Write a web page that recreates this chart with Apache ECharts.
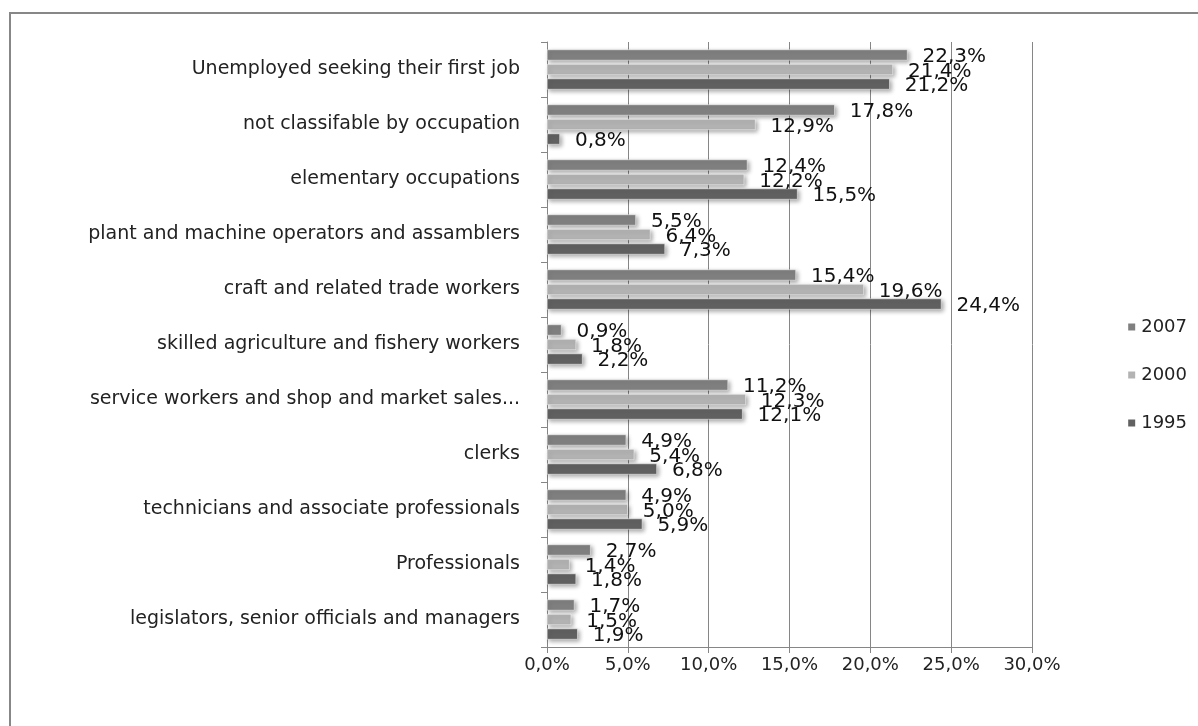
<!DOCTYPE html>
<html>
<head>
<meta charset="utf-8">
<script src="https://cdn.jsdelivr.net/npm/echarts@6/dist/echarts.min.js"></script>
<style>html,body{margin:0;padding:0;background:#fff}#c{width:1198px;height:726px}</style>
</head>
<body>
<div id="c"></div>
<script>
const categories = [
  "legislators, senior officials and managers",
  "Professionals",
  "technicians and associate professionals",
  "clerks",
  "service workers and shop and market sales...",
  "skilled agriculture and fishery workers",
  "craft and related trade workers",
  "plant and machine operators and assamblers",
  "elementary occupations",
  "not classifable by occupation",
  "Unemployed seeking their first job"
];
const values2007 = [1.7, 2.7, 4.9, 4.9, 11.2, 0.9, 15.4, 5.5, 12.4, 17.8, 22.3];
const values2000 = [1.5, 1.4, 5.0, 5.4, 12.3, 1.8, 19.6, 6.4, 12.2, 12.9, 21.4];
const values1995 = [1.9, 1.8, 5.9, 6.8, 12.1, 2.2, 24.4, 7.3, 15.5, 0.8, 21.2];
const seriesNames = ["2007", "2000", "1995"];
const xTicks = [0, 5, 10, 15, 20, 25, 30];

const FONT = "DejaVu Sans";
const fmt = v => v.toFixed(1).replace('.', ',') + '%';
const colors = {"2007": "#808080", "2000": "#b3b3b3", "1995": "#616161"};
const dataMap = {"2007": values2007, "2000": values2000, "1995": values1995};

const chart = echarts.init(document.getElementById('c'), null, {renderer: 'canvas'});
chart.setOption({
  animation: false,
  backgroundColor: '#fff',
  textStyle: {fontFamily: FONT},
  graphic: [
    {type: 'polyline', shape: {points: [[10, 726], [10, 13], [1198, 13]]},
     style: {stroke: '#878787', lineWidth: 2, fill: null}}
  ],
  grid: {left: 547, right: 166, top: 42, bottom: 79, containLabel: false},
  legend: {
    orient: 'vertical', right: 6, top: 313, itemGap: 30,
    icon: 'rect', itemWidth: 9, itemHeight: 9,
    data: ["2007", "2000", "1995"],
    textStyle: {fontFamily: FONT, fontSize: 18, color: '#222'}
  },
  xAxis: {
    type: 'value', min: 0, max: 30, interval: 5,
    axisLine: {show: true, lineStyle: {color: '#868686', width: 1}},
    axisTick: {show: true, length: 6, lineStyle: {color: '#868686'}},
    splitLine: {show: true, lineStyle: {color: '#868686', width: 1}},
    axisLabel: {formatter: v => xTicks.includes(v) ? fmt(v) : '', fontFamily: FONT, fontSize: 18, color: '#222', margin: 9}
  },
  yAxis: {
    type: 'category', data: categories,
    axisLine: {show: true, lineStyle: {color: '#868686', width: 1}},
    axisTick: {show: true, length: 6, lineStyle: {color: '#868686'}},
    axisLabel: {fontFamily: FONT, fontSize: 19, color: '#222', margin: 27}
  },
  series: seriesNames.map((n, i) => ({
    name: n, type: 'bar', data: dataMap[n],
    barWidth: 11, barGap: '32%', barCategoryGap: '28%',
    itemStyle: {color: colors[n], borderColor: '#fff', borderWidth: 0.5,
      shadowColor: 'rgba(0,0,0,0.35)', shadowBlur: 4, shadowOffsetX: 2, shadowOffsetY: 2},
    label: {show: true, position: 'right', distance: 15, offset: [0, 2],
      formatter: p => fmt(p.value), fontFamily: FONT, fontSize: 20, color: '#111'}
  }))
});
</script>
</body>
</html>
